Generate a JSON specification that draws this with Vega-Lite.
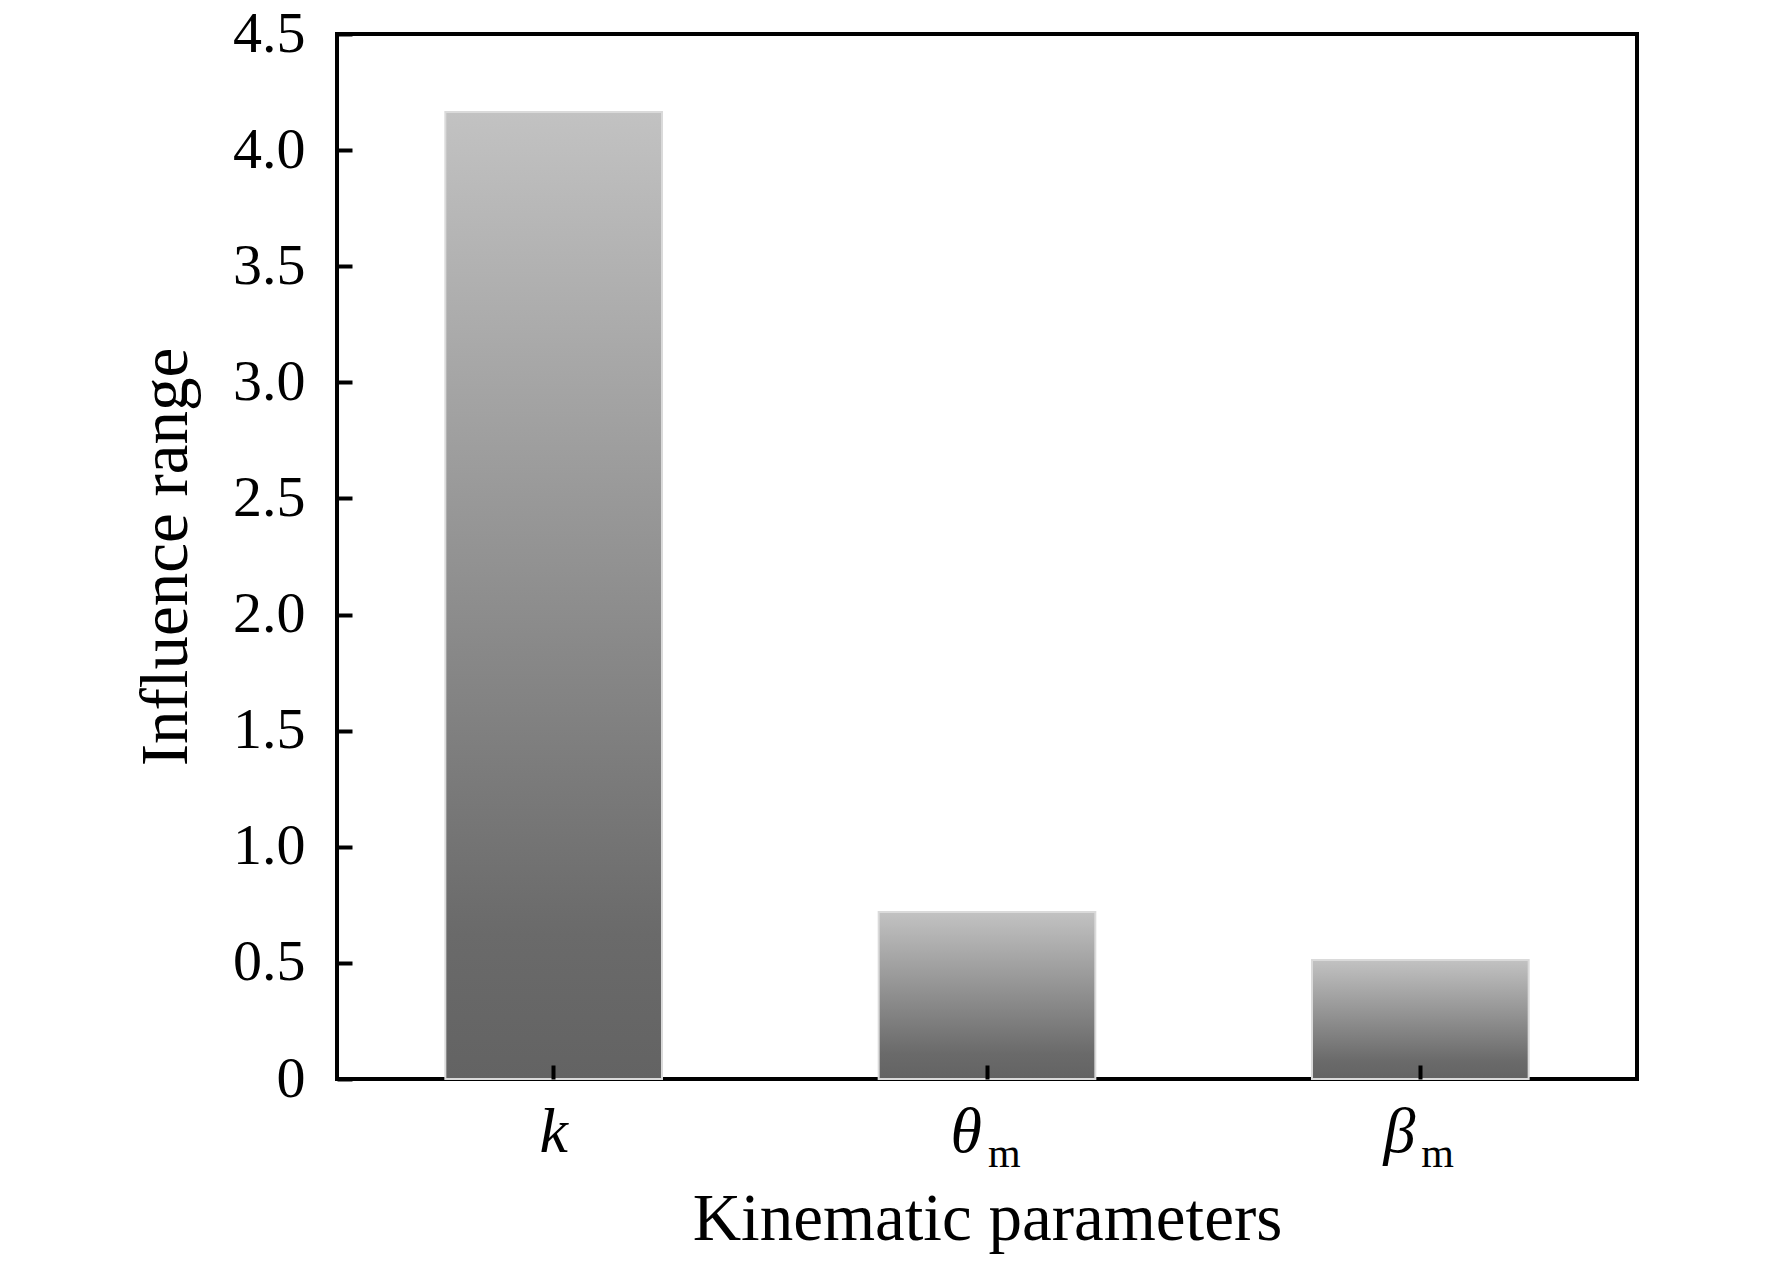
{
  "$schema": "https://vega.github.io/schema/vega-lite/v6.json",
  "autosize": {"type": "none"},
  "padding": {"left": 337, "top": 34, "right": 135, "bottom": 185},
  "width": 1300,
  "height": 1045,
  "background": "white",
  "config": {
    "view": {"stroke": "black", "strokeWidth": 4},
    "font": "Liberation Serif",
    "axis": {"grid": false, "domain": false, "labelColor": "black", "titleColor": "black", "titleFontWeight": "normal", "labelFont": "Liberation Serif", "titleFont": "Liberation Serif"}
  },
  "data": {
    "values": [
      {"param": "k", "sub": "", "range": 4.164},
      {"param": "θ", "sub": "m", "range": 0.719},
      {"param": "β", "sub": "m", "range": 0.512}
    ]
  },
  "layer": [
    {
      "mark": {
        "type": "bar",
        "stroke": "#dadada",
        "strokeWidth": 2,
        "color": {
          "gradient": "linear",
          "x1": 0, "y1": 0, "x2": 0, "y2": 1,
          "stops": [
            {"offset": 0, "color": "#c2c2c2"},
            {"offset": 0.85, "color": "#6a6a6a"},
            {"offset": 1, "color": "#636363"}
          ]
        }
      },
      "encoding": {
        "x": {
          "field": "param",
          "type": "nominal",
          "sort": null,
          "scale": {"paddingInner": 0.5, "paddingOuter": 0.25},
          "axis": {
            "title": "Kinematic parameters",
            "titleFontSize": 67,
            "titlePadding": 22,
            "labelAngle": 0,
            "labelFontSize": 64,
            "labelFontStyle": "italic",
            "labelAlign": {"condition": {"test": "datum.value === 'k'", "value": "center"}, "value": "right"},
            "labelOffset": {"condition": {"test": "datum.value === 'k'", "value": 0}, "value": -5},
            "labelBaseline": "alphabetic",
            "labelPadding": 86,
            "ticks": true,
            "tickSize": -14,
            "tickColor": "black",
            "tickWidth": 4,
            "tickOpacity": 1,
            "tickBand": "center",
            "zindex": 2
          }
        },
        "y": {
          "field": "range",
          "type": "quantitative",
          "scale": {"domain": [0, 4.5], "nice": false},
          "axis": {
            "title": "Influence range",
            "titleFontSize": 67,
            "titlePadding": 32,
            "values": [0, 0.5, 1, 1.5, 2, 2.5, 3, 3.5, 4, 4.5],
            "labelExpr": "datum.value === 0 ? '0' : format(datum.value, '.1f')",
            "labelFontSize": 58,
            "labelPadding": 47,
            "ticks": true,
            "tickSize": -15,
            "tickColor": "black",
            "tickWidth": 4,
            "tickOpacity": 1,
            "zindex": 2
          }
        }
      }
    },
    {
      "transform": [{"filter": "datum.sub !== ''"}],
      "mark": {"type": "text", "align": "left", "baseline": "alphabetic", "dx": 1, "dy": 88, "fontSize": 42, "font": "Liberation Serif", "color": "black"},
      "encoding": {
        "x": {"field": "param", "type": "nominal", "sort": null},
        "y": {"datum": 0, "type": "quantitative"},
        "text": {"field": "sub"}
      }
    }
  ]
}
